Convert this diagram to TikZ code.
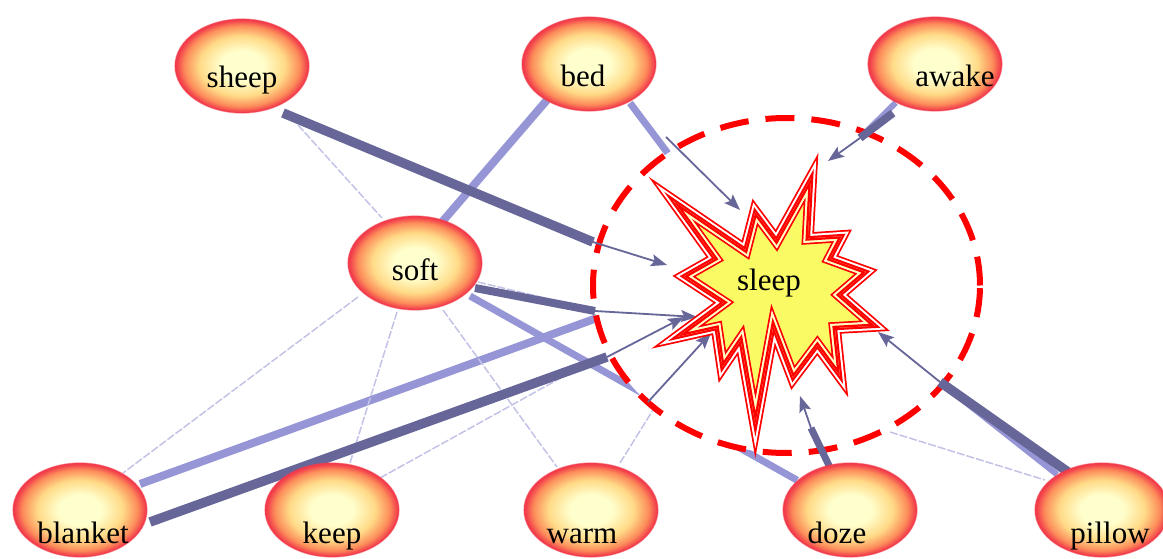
\documentclass[tikz,border=0pt]{standalone}
\usepackage{fontspec}
\setmainfont{Liberation Serif}
\usetikzlibrary{shapes.geometric,arrows.meta}
\definecolor{ballin}{RGB}{255,255,205}
\definecolor{ballmid}{RGB}{255,218,135}
\definecolor{ballout}{RGB}{252,140,90}
\definecolor{balledge}{RGB}{242,60,75}
\definecolor{darkln}{RGB}{102,102,153}
\definecolor{lightln}{RGB}{150,150,215}
\definecolor{faintln}{RGB}{195,195,232}
\definecolor{staryel}{RGB}{250,250,100}
\definecolor{starpale}{RGB}{255,255,190}
\pgfdeclareradialshading{ballshade}{\pgfpoint{0bp}{0bp}}{color(0bp)=(ballin); color(8bp)=(ballin); color(16bp)=(ballmid); color(21.5bp)=(ballout); color(24.5bp)=(balledge); color(50bp)=(balledge)}
\pgfdeclarelayer{bottom}
\pgfdeclarelayer{back}
\pgfdeclarelayer{ringl}
\pgfdeclarelayer{fore}
\pgfsetlayers{bottom,back,ringl,fore,main}
\newcommand\starP{(811,178.5) -- (807.8,238.4) -- (841.7,236.2) -- (829.9,258.8) -- (866.1,271.9) -- (839.3,294.9) -- (874.8,325.8) -- (834.8,328) -- (839.9,375.9) -- (817.4,345.3) -- (793,377.7) -- (773.3,326) -- (755.4,424.1) -- (740.6,340) -- (722.4,366.8) -- (716.7,327.9) -- (677.8,336.6) -- (723.9,302.5) -- (684,276.3) -- (715.1,258.7) -- (673.4,200.9) -- (745.5,250.1) -- (755.2,212.3) -- (776.4,240.7) -- cycle}
\begin{document}
\begin{tikzpicture}[x=1pt,y=-1pt,
  ball/.style={ellipse, shading=ballshade, draw=balledge, draw opacity=0.5, line width=1.2pt, minimum width=134pt, minimum height=94pt, inner sep=0pt},
  lbl/.style={font=\fontsize{31}{36}\selectfont, anchor=base, inner sep=0pt, text=black},
  ringst/.style={ellipse, draw=red, fill=white, line width=6pt, dash pattern=on 29pt off 17pt, minimum width=387pt, minimum height=335pt, inner sep=0pt},
  lightedge/.style={lightln, line width=#1},
  fainted/.style={faintln, line width=1.5pt, dash pattern=on 8pt off 2pt},
  darkedge/.style={darkln, line width=#1},
  arrowedge/.style={darkln, line width=1.8pt, -{Stealth[length=16pt,width=12pt,inset=3pt]}},
  starline/.style={line join=miter, miter limit=20}
]
\begin{pgfonlayer}{bottom}
\fill[white] (0,0) rectangle (1163,559);
\end{pgfonlayer}
\useasboundingbox (0,0) rectangle (1163,559);

% word nodes
\node[ball] (sheep) at (242,66) {};
\node[ball] (bed) at (589,64) {};
\node[ball] (awake) at (935,64) {};
\node[ball] (soft) at (415,263) {};
\node[ball] (blanket) at (80,510) {};
\node[ball] (keep) at (332,510) {};
\node[ball] (warm) at (591,510) {};
\node[ball] (doze) at (850,510) {};
\node[ball] (pillow) at (1102,510) {};

\node[lbl] (sheepT) at (242,88) {sheep};
\node[lbl] (bedT) at (583,87) {bed};
\node[lbl] (awakeT) at (955,87) {awake};
\node[lbl] (softT) at (415,280) {soft};
\node[lbl] (blanketT) at (83,543) {blanket};
\node[lbl] (keepT) at (332,543) {keep};
\node[lbl] (warmT) at (582,543) {warm};
\node[lbl] (dozeT) at (837,543) {doze};
\node[lbl] (pillowT) at (1110,543) {pillow};

% connector end points
\coordinate (bedSW) at (547,100);
\coordinate (softN) at (442,222);
\coordinate (bedSE) at (630,103);
\coordinate (softSE) at (470,296);
\coordinate (blanketNE) at (140,484);
\coordinate (rBlanketL) at (597,318);
\coordinate (sheepSE) at (298,125);
\coordinate (softNW) at (382,218);
\coordinate (softSW) at (358,297);
\coordinate (blanketN) at (123,473);
\coordinate (softS) at (397,312);
\coordinate (keepN) at (350,463);
\coordinate (softS2) at (443,310);
\coordinate (warmN) at (557,467);
\coordinate (keepNE) at (380,478);
\coordinate (rKeep) at (604,354);
\coordinate (warmNE) at (620,463);
\coordinate (rWarm) at (653,410);
\coordinate (softE2) at (478,282);
\coordinate (rSoft2) at (595,310);
\coordinate (rPillow2) at (890,432);
\coordinate (pillowNW) at (1045,480);
\coordinate (sheepD) at (283,113);
\coordinate (rSheep) at (593,242);
\coordinate (softD) at (475,288);
\coordinate (rSoft) at (595,311);
\coordinate (blanketD) at (150,522);
\coordinate (rBlanket) at (607,357);
\coordinate (dozeD) at (835,478);
\coordinate (rDoze) at (811,428);
\coordinate (pillowD) at (1068,472);
\coordinate (rPillow) at (940,382);
\coordinate (awakeD) at (893,113);
\coordinate (rAwake) at (860,138);
\coordinate (rBed) at (666,137);
\coordinate (rWarmA) at (648,402);
\coordinate (tBed) at (740,210);
\coordinate (tAwake) at (828,161);
\coordinate (tSheep) at (667,265);
\coordinate (tSoft) at (697,317);
\coordinate (tBlanket) at (684,317);
\coordinate (tWarm) at (711,333);
\coordinate (tDoze) at (800,396);
\coordinate (tPillow) at (878,332);
\coordinate (sleepC) at (773,293);

\begin{pgfonlayer}{back}
  \draw[lightedge=8] (bedSW) -- (softN);
  \draw[lightedge=7] (bedSE) -- (sleepC);
  \draw[lightedge=7] (softSE) -- (doze);
  \draw[lightedge=8] (blanketNE) -- (rBlanketL);
  \draw[lightedge=6] (doze) -- (rDoze);
  \draw[lightedge=6] (pillow) -- (rPillow);
  \draw[lightedge=6] (awake) -- (rAwake);
  \draw[fainted] (sheepSE) -- (softNW);
  \draw[fainted] (softSW) -- (blanketN);
  \draw[fainted] (softS) -- (keepN);
  \draw[fainted] (softS2) -- (warmN);
  \draw[fainted] (keepNE) -- (rKeep);
  \draw[fainted] (warmNE) -- (rWarm);
  \draw[fainted] (softE2) -- (rSoft2);
  \draw[fainted] (rPillow2) -- (pillowNW);
\end{pgfonlayer}

\begin{pgfonlayer}{ringl}
  \node[ringst] (ring) at (786.5,285.5) {};
\end{pgfonlayer}

\begin{pgfonlayer}{fore}
  \draw[darkedge=9.5] (sheepD) -- (rSheep);
  \draw[darkedge=8] (softD) -- (rSoft);
  \draw[darkedge=9.5] (blanketD) -- (rBlanket);
  \draw[darkedge=7] (dozeD) -- (rDoze);
  \draw[darkedge=9.5] (pillowD) -- (rPillow);
  \draw[darkedge=8] (awakeD) -- (rAwake);
  \draw[arrowedge] (rBed) -- (tBed);
  \draw[arrowedge] (rAwake) -- (tAwake);
  \draw[arrowedge] (rSheep) -- (tSheep);
  \draw[arrowedge] (rSoft) -- (tSoft);
  \draw[arrowedge] (rBlanket) -- (tBlanket);
  \draw[arrowedge] (rWarmA) -- (tWarm);
  \draw[arrowedge] (rDoze) -- (tDoze);
  \draw[arrowedge] (rPillow) -- (tPillow);
  % starburst
  \fill[staryel] \starP;
  \draw[red, line width=12pt, starline] \starP;
  \draw[white, line width=8.5pt, starline] \starP;
  \draw[red, line width=4.5pt, starline] \starP;
  \begin{scope}
    \clip \starP;
    \draw[starpale, line width=8pt, starline] \starP;
    \draw[red, line width=4.5pt, starline] \starP;
  \end{scope}
\end{pgfonlayer}

\node[lbl] (sleepT) at (769,290) {sleep};
\end{tikzpicture}
\end{document}
